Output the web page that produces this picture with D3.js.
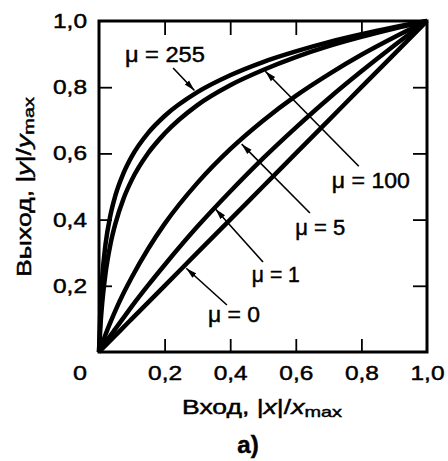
<!DOCTYPE html>
<html>
<head>
<meta charset="utf-8">
<script src="https://cdn.jsdelivr.net/npm/d3@7"></script>
<style>
	body { margin: 0; background: #fff; }
	text { font-family: "Liberation Sans", Arial, sans-serif; fill: #000; stroke: #000; stroke-width: 0.45px; }
</style>
</head>
<body>
<script>

// values (input |x|/xmax, output |y|/ymax)
const xIn   = [0, 0.005, 0.01, 0.02, 0.035, 0.05, 0.075, 0.1, 0.15, 0.2, 0.3, 0.4, 0.5, 0.6, 0.7, 0.8, 0.9, 1.0]
const yMu0   = [0, 0.005, 0.01, 0.02, 0.035, 0.05, 0.075, 0.1, 0.15, 0.2, 0.3, 0.4, 0.5, 0.6, 0.7, 0.8, 0.9, 1.0]
const yMu1   = [0, 0.007, 0.014, 0.029, 0.050, 0.070, 0.104, 0.138, 0.202, 0.263, 0.379, 0.485, 0.585, 0.678, 0.766, 0.848, 0.926, 1.0]
const yMu5   = [0, 0.014, 0.027, 0.053, 0.090, 0.125, 0.178, 0.226, 0.312, 0.387, 0.511, 0.613, 0.699, 0.774, 0.839, 0.898, 0.951, 1.0]
const yMu100 = [0, 0.088, 0.150, 0.238, 0.326, 0.388, 0.464, 0.520, 0.601, 0.660, 0.746, 0.806, 0.852, 0.891, 0.924, 0.952, 0.977, 1.0]
const yMu255 = [0, 0.148, 0.228, 0.326, 0.414, 0.473, 0.541, 0.591, 0.662, 0.713, 0.785, 0.836, 0.876, 0.908, 0.936, 0.960, 0.981, 1.0]

const tickVals = [0.2, 0.4, 0.6, 0.8, 1.0]
const tickLabels = ['0,2', '0,4', '0,6', '0,8', '1,0']

// label text, label start, arrow start, arrow tip (all in data units)
const notes = [
	{text: 'μ = 255', len: 80, lx: 0.079, ly: 0.876, fx: 0.226, fy: 0.858, tx: 0.291, ty: 0.790},
	{text: 'μ = 100', len: 78, lx: 0.710, ly: 0.495, fx: 0.792, fy: 0.561, tx: 0.507, ty: 0.848},
	{text: 'μ = 5',   len: 50, lx: 0.598, ly: 0.353, fx: 0.643, fy: 0.420, tx: 0.435, ty: 0.628},
	{text: 'μ = 1',   len: 48, lx: 0.466, ly: 0.211, fx: 0.500, fy: 0.272, tx: 0.355, ty: 0.432},
	{text: 'μ = 0',   len: 52, lx: 0.332, ly: 0.090, fx: 0.390, fy: 0.142, tx: 0.266, ty: 0.253}
]

const series = [yMu0, yMu1, yMu5, yMu100, yMu255]

const W = 448, H = 461
const m = {left: 99, right: 21, top: 21, bottom: 109}

const svg = d3.select('body').append('svg')
	.attr('width', W)
	.attr('height', H)

const x = d3.scaleLinear().domain([0, 1]).range([m.left, W - m.right])
const y = d3.scaleLinear().domain([0, 1]).range([H - m.bottom, m.top])

svg.append('defs').append('marker')
	.attr('id', 'head')
	.attr('markerUnits', 'userSpaceOnUse')
	.attr('viewBox', '0 -4 11 8')
	.attr('refX', 11).attr('refY', 0)
	.attr('markerWidth', 11).attr('markerHeight', 8)
	.attr('orient', 'auto')
	.append('path').attr('d', 'M0,-3L11,0L0,3Z').attr('fill', '#000')

//curves
const line = d3.line()
	.x((d, i) => x(xIn[i]))
	.y(d => y(d))
	.curve(d3.curveMonotoneX)

svg.append('g').selectAll('path')
	.data(series)
	.join('path')
	.attr('d', line)
	.attr('fill', 'none')
	.attr('stroke', '#000')
	.attr('stroke-width', 4.5)
	.attr('stroke-linejoin', 'round')

//axes, ticks pointing inside
const fmt = d => tickLabels[tickVals.indexOf(d)]

const gx = svg.append('g').attr('transform', 'translate(0,' + y(0) + ')')
	.call(d3.axisBottom(x).tickValues(tickVals).tickFormat(fmt).tickSizeInner(-13).tickSizeOuter(0).tickPadding(14))
const gy = svg.append('g').attr('transform', 'translate(' + x(0) + ',0)')
	.call(d3.axisLeft(y).tickValues(tickVals).tickFormat(fmt).tickSizeInner(-13).tickSizeOuter(0).tickPadding(12))
svg.append('g').attr('transform', 'translate(0,' + y(1) + ')')
	.call(d3.axisTop(x).tickValues(tickVals.slice(0, 4)).tickFormat('').tickSizeInner(-14).tickSizeOuter(0))
svg.append('g').attr('transform', 'translate(' + x(1) + ',0)')
	.call(d3.axisRight(y).tickValues(tickVals.slice(0, 4)).tickFormat('').tickSizeInner(-14).tickSizeOuter(0))

svg.selectAll('.domain').remove()
svg.selectAll('.tick line').attr('stroke', '#000').attr('stroke-width', 1.8)
svg.selectAll('.tick text')
	.attr('font-size', 20)
	.attr('font-family', '"Liberation Sans", Arial, sans-serif')
	.attr('textLength', 34)
	.attr('lengthAdjust', 'spacingAndGlyphs')
gx.selectAll('.tick').filter(d => d == 1).select('line').remove()
gy.selectAll('.tick').filter(d => d == 1).select('line').remove()

svg.append('text')
	.attr('x', x(0) - 19).attr('y', y(0) + 28)
	.attr('text-anchor', 'middle')
	.attr('font-size', 20)
	.attr('textLength', 14).attr('lengthAdjust', 'spacingAndGlyphs')
	.text('0')

//frame
svg.append('rect')
	.attr('x', x(0)).attr('y', y(1))
	.attr('width', x(1) - x(0)).attr('height', y(0) - y(1))
	.attr('fill', 'none')
	.attr('stroke', '#000')
	.attr('stroke-width', 3)

//axis titles
const xt = svg.append('text')
	.attr('x', 262).attr('y', 414)
	.attr('text-anchor', 'middle')
	.attr('font-size', 20)
	.attr('textLength', 160).attr('lengthAdjust', 'spacingAndGlyphs')
xt.append('tspan').text('Вход, |')
xt.append('tspan').attr('font-style', 'italic').text('x')
xt.append('tspan').text('|/')
xt.append('tspan').attr('font-style', 'italic').text('x')
xt.append('tspan').attr('font-size', 15).attr('dy', 3).text('max')

const yt = svg.append('text')
	.attr('transform', 'translate(31,187) rotate(-90)')
	.attr('text-anchor', 'middle')
	.attr('font-size', 20)
	.attr('textLength', 180).attr('lengthAdjust', 'spacingAndGlyphs')
yt.append('tspan').text('Выход, |')
yt.append('tspan').attr('font-style', 'italic').text('y')
yt.append('tspan').text('|/')
yt.append('tspan').attr('font-style', 'italic').text('y')
yt.append('tspan').attr('font-size', 15).attr('dy', 3).text('max')

svg.append('text')
	.attr('x', 248).attr('y', 453)
	.attr('text-anchor', 'middle')
	.attr('font-family', '"Liberation Serif", "Times New Roman", serif')
	.attr('font-weight', 'bold')
	.attr('font-size', 24)
	.text('a)')

//mu labels with arrows
const ann = svg.append('g')
ann.selectAll('line')
	.data(notes)
	.join('line')
	.attr('x1', d => x(d.fx)).attr('y1', d => y(d.fy))
	.attr('x2', d => x(d.tx)).attr('y2', d => y(d.ty))
	.attr('stroke', '#000')
	.attr('stroke-width', 1.6)
	.attr('marker-end', 'url(#head)')

ann.selectAll('text')
	.data(notes)
	.join('text')
	.attr('x', d => x(d.lx)).attr('y', d => y(d.ly))
	.attr('font-size', 22)
	.attr('textLength', d => d.len)
	.attr('lengthAdjust', 'spacingAndGlyphs')
	.text(d => d.text)

</script>
</body>
</html>
